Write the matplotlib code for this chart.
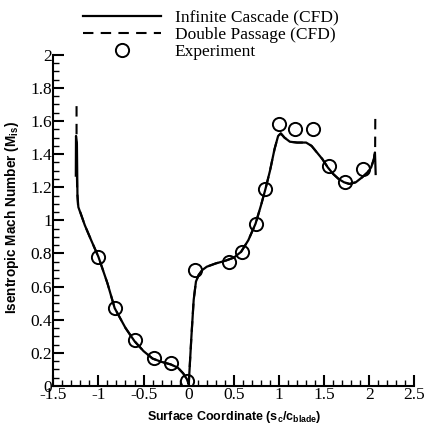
import matplotlib
matplotlib.use("Agg")
import matplotlib.pyplot as plt
from matplotlib.ticker import MultipleLocator

# ---- data ----
cfd_x = [-1.25, -1.248, -1.238, -1.232, -1.222, -1.15, -1.08, -1.0, -0.9, -0.82, -0.7, -0.6,
         -0.5, -0.4, -0.3, -0.2, -0.12, -0.06, -0.02, 0.0,
         0.03, 0.055, 0.08, 0.11, 0.15, 0.2, 0.3, 0.4, 0.5, 0.58, 0.66, 0.74, 0.8, 0.85,
         0.9, 0.95, 0.99, 1.02, 1.06, 1.12, 1.2, 1.3, 1.36, 1.42, 1.48, 1.54, 1.6, 1.66,
         1.72, 1.78, 1.85, 1.92, 1.98, 2.02, 2.05, 2.062, 2.066, 2.07]
cfd_y = [1.27, 1.51, 1.46, 1.15, 1.08, 0.97, 0.88, 0.78, 0.62, 0.47, 0.35, 0.27,
         0.21, 0.165, 0.145, 0.13, 0.11, 0.075, 0.04, 0.01,
         0.30, 0.52, 0.63, 0.67, 0.70, 0.72, 0.74, 0.755, 0.775, 0.81, 0.88, 0.98, 1.09, 1.19,
         1.30, 1.43, 1.51, 1.525, 1.50, 1.475, 1.47, 1.47, 1.45, 1.41, 1.37, 1.32, 1.28, 1.25,
         1.23, 1.22, 1.23, 1.26, 1.29, 1.32, 1.37, 1.41, 1.35, 1.28]

dp_x = [-1.242, -1.242, -1.236, -1.226, -1.15, -1.08, -1.0, -0.9, -0.82, -0.7, -0.6,
        -0.5, -0.4, -0.3, -0.2, -0.12, -0.06, -0.02, 0.0,
        0.03, 0.055, 0.08, 0.11, 0.15, 0.2, 0.3, 0.4, 0.5, 0.58, 0.66, 0.74, 0.8, 0.85,
        0.9, 0.95, 0.99, 1.02, 1.06, 1.12, 1.2, 1.3, 1.36, 1.42, 1.48, 1.54, 1.6, 1.66,
        1.72, 1.78, 1.85, 1.92, 1.98, 2.02, 2.05, 2.064, 2.066]
dp_y = [1.69, 1.40, 1.20, 1.09, 0.97, 0.88, 0.78, 0.62, 0.47, 0.35, 0.27,
        0.21, 0.165, 0.145, 0.13, 0.11, 0.075, 0.04, 0.01,
        0.30, 0.52, 0.63, 0.67, 0.70, 0.72, 0.74, 0.755, 0.775, 0.81, 0.88, 0.98, 1.09, 1.19,
        1.30, 1.43, 1.51, 1.525, 1.50, 1.475, 1.47, 1.47, 1.45, 1.41, 1.37, 1.32, 1.28, 1.25,
        1.23, 1.22, 1.23, 1.26, 1.29, 1.32, 1.37, 1.42, 1.63]

exp_x = [-1.0, -0.82, -0.6, -0.38, -0.2, -0.02, 0.07, 0.45, 0.59, 0.74, 0.85,
         1.0, 1.18, 1.38, 1.55, 1.73, 1.93]
exp_y = [0.78, 0.47, 0.28, 0.17, 0.14, 0.03, 0.70, 0.75, 0.81, 0.98, 1.19,
         1.58, 1.55, 1.55, 1.33, 1.23, 1.31]

labels = ["Infinite Cascade (CFD)", "Double Passage (CFD)", "Experiment"]

# ---- style ----
plt.rcParams['axes.unicode_minus'] = False
plt.rcParams['mathtext.fontset'] = 'custom'
plt.rcParams['mathtext.rm'] = 'Liberation Sans:bold'
plt.rcParams['mathtext.it'] = 'Liberation Sans:bold'
plt.rcParams['mathtext.bf'] = 'Liberation Sans:bold'

fig = plt.figure(figsize=(4.26, 4.25), dpi=100)
ax = fig.add_axes([0.125, 0.092, 0.848, 0.779])

ax.plot(dp_x, dp_y, color='black', lw=1.5, ls=(0, (5, 3.5)), label=labels[1], zorder=2)
ax.plot(cfd_x, cfd_y, color='black', lw=1.6, ls='-', label=labels[0], zorder=3)
ax.plot(exp_x, exp_y, ls='none', marker='o', ms=9.5, mfc='none', mec='black', mew=1.4,
        label=labels[2], zorder=4)

ax.set_xlim(-1.5, 2.5)
ax.set_ylim(0, 2)
ax.xaxis.set_major_locator(MultipleLocator(0.5))
ax.xaxis.set_minor_locator(MultipleLocator(0.1))
ax.yaxis.set_major_locator(MultipleLocator(0.2))
ax.yaxis.set_minor_locator(MultipleLocator(0.05))
ax.xaxis.set_major_formatter(matplotlib.ticker.FuncFormatter(lambda v, p: f"{v:g}"))
ax.yaxis.set_major_formatter(matplotlib.ticker.FuncFormatter(lambda v, p: f"{v:g}"))

for s in ['top', 'right']:
    ax.spines[s].set_visible(False)
for s in ['left', 'bottom']:
    ax.spines[s].set_linewidth(1.5)

ax.tick_params(which='major', direction='in', length=8, width=1.5, labelsize=12.5, pad=1)
ax.tick_params(which='minor', direction='in', length=4, width=1.0)
for lab in ax.get_xticklabels() + ax.get_yticklabels():
    lab.set_family('Liberation Serif')

ax.set_xlabel("Surface Coordinate (s$_\\mathrm{c}$/c$_\\mathrm{blade}$)",
              fontfamily='Liberation Sans', fontweight='bold', fontsize=9, labelpad=4)
ax.set_ylabel("Isentropic Mach Number (M$_\\mathrm{is}$)",
              fontfamily='Liberation Sans', fontweight='bold', fontsize=9.8, labelpad=5)
ax.yaxis.set_label_coords(-0.09, 0.51)

h, l = ax.get_legend_handles_labels()
order = [l.index(x) for x in labels]
leg = fig.legend([h[i] for i in order], [l[i] for i in order],
                 loc='upper left', bbox_to_anchor=(0.172, 1.0), frameon=False,
                 prop={'family': 'Liberation Serif', 'size': 12.5},
                 handlelength=4.5, handletextpad=0.8, labelspacing=0.05,
                 borderaxespad=0.15)

fig.savefig("out.png", dpi=100)
